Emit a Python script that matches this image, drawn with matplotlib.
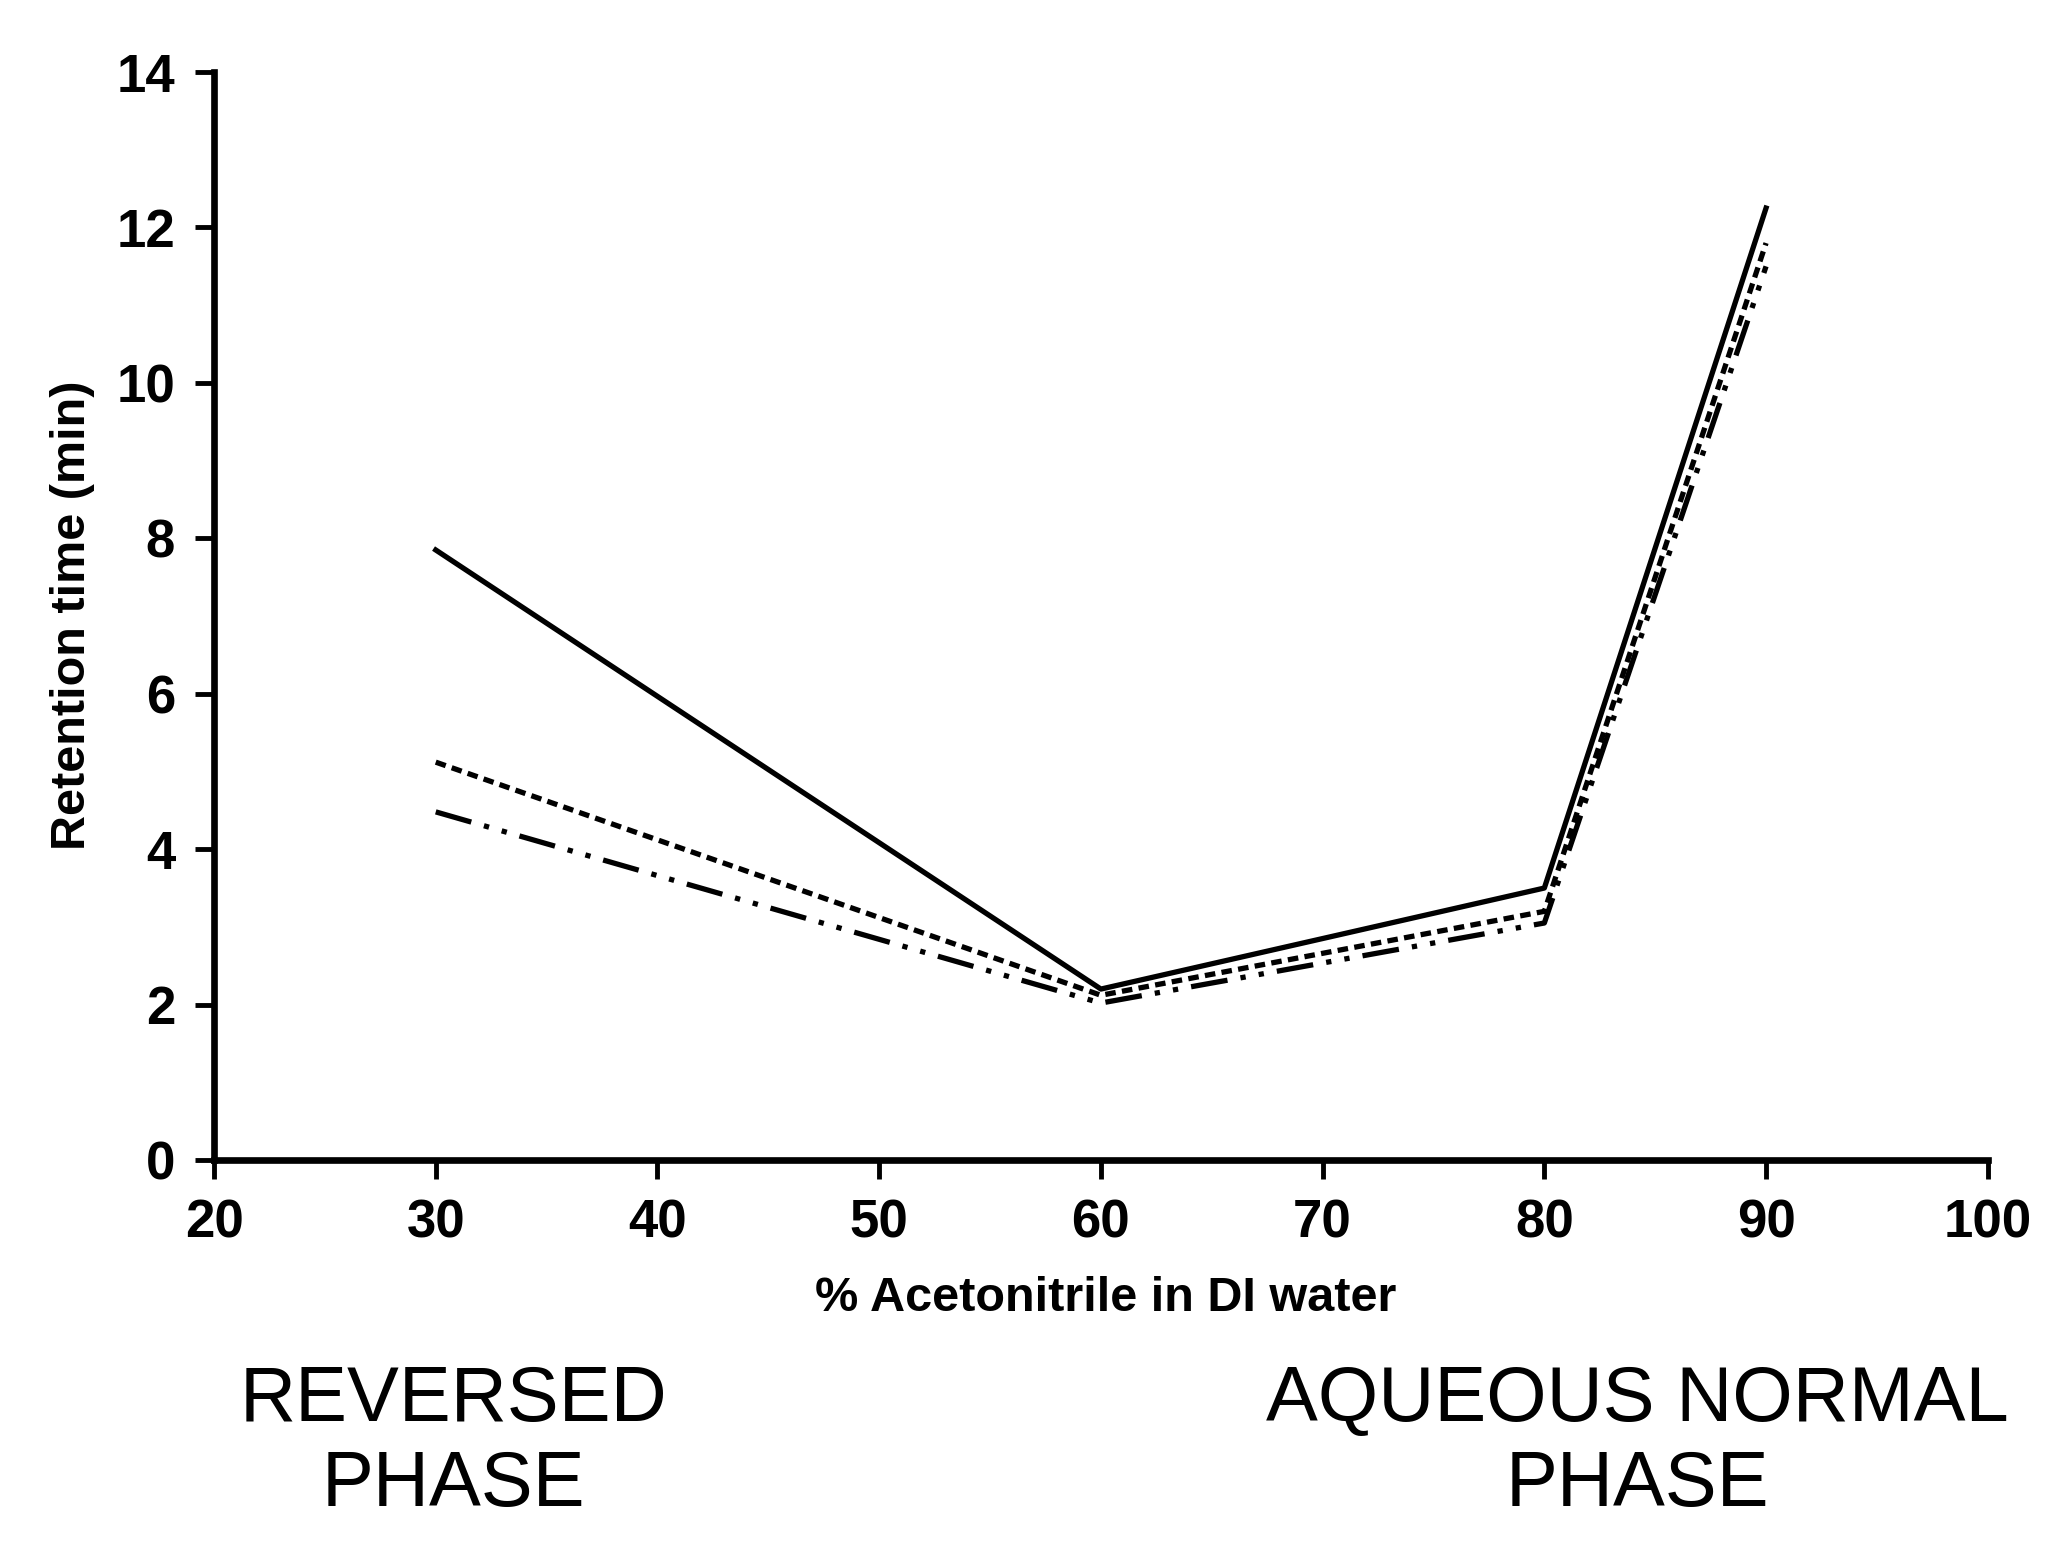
import matplotlib.pyplot as plt

plt.rcParams['font.family'] = ['Liberation Sans', 'DejaVu Sans']

# data
acetonitrile = [30, 60, 80, 90]
rt_solid = [7.85, 2.2, 3.5, 12.25]
rt_dashed = [5.12, 2.12, 3.2, 11.8]
rt_dashdot = [4.48, 2.02, 3.05, 11.5]

x_ticks = [20, 30, 40, 50, 60, 70, 80, 90, 100]
y_ticks = [0, 2, 4, 6, 8, 10, 12, 14]

fig = plt.figure(figsize=(20.62, 15.5), dpi=100)
ax = fig.add_axes([0.1038, 0.2516, 0.8602, 0.7019])

ax.plot(acetonitrile, rt_solid, color='black', lw=3.8)
ax.plot(acetonitrile, rt_dashed, color='black', lw=3.8, linestyle=(0, (2, 1.2)))
ax.plot(acetonitrile, rt_dashdot, color='black', lw=3.8,
        linestyle=(0, (7, 2.5, 1, 2.5, 1, 2.5)))

ax.set_xlim(20, 100)
ax.set_ylim(0, 14)
ax.set_xticks(x_ticks)
ax.set_yticks(y_ticks)
ax.set_xticklabels([str(v) for v in x_ticks], fontsize=38, fontweight='bold')
ax.set_yticklabels([str(v) for v in y_ticks], fontsize=38, fontweight='bold')

for s in ['top', 'right']:
    ax.spines[s].set_visible(False)
for s in ['left', 'bottom']:
    ax.spines[s].set_linewidth(4.8)
ax.tick_params(direction='out', length=14, width=3.5, pad=14)

fig.text(0.536, 0.162, '% Acetonitrile in DI water', fontsize=35,
         fontweight='bold', ha='center', va='center')
fig.text(0.035, 0.603, 'Retention time (min)', fontsize=35, fontweight='bold',
         ha='center', va='center', rotation=90)

fig.text(0.220, 0.069, 'REVERSED\nPHASE', fontsize=56, ha='center',
         va='center', linespacing=1.2)
fig.text(0.794, 0.069, 'AQUEOUS NORMAL\nPHASE', fontsize=56, ha='center',
         va='center', linespacing=1.2)

fig.savefig('out.png', dpi=100)
